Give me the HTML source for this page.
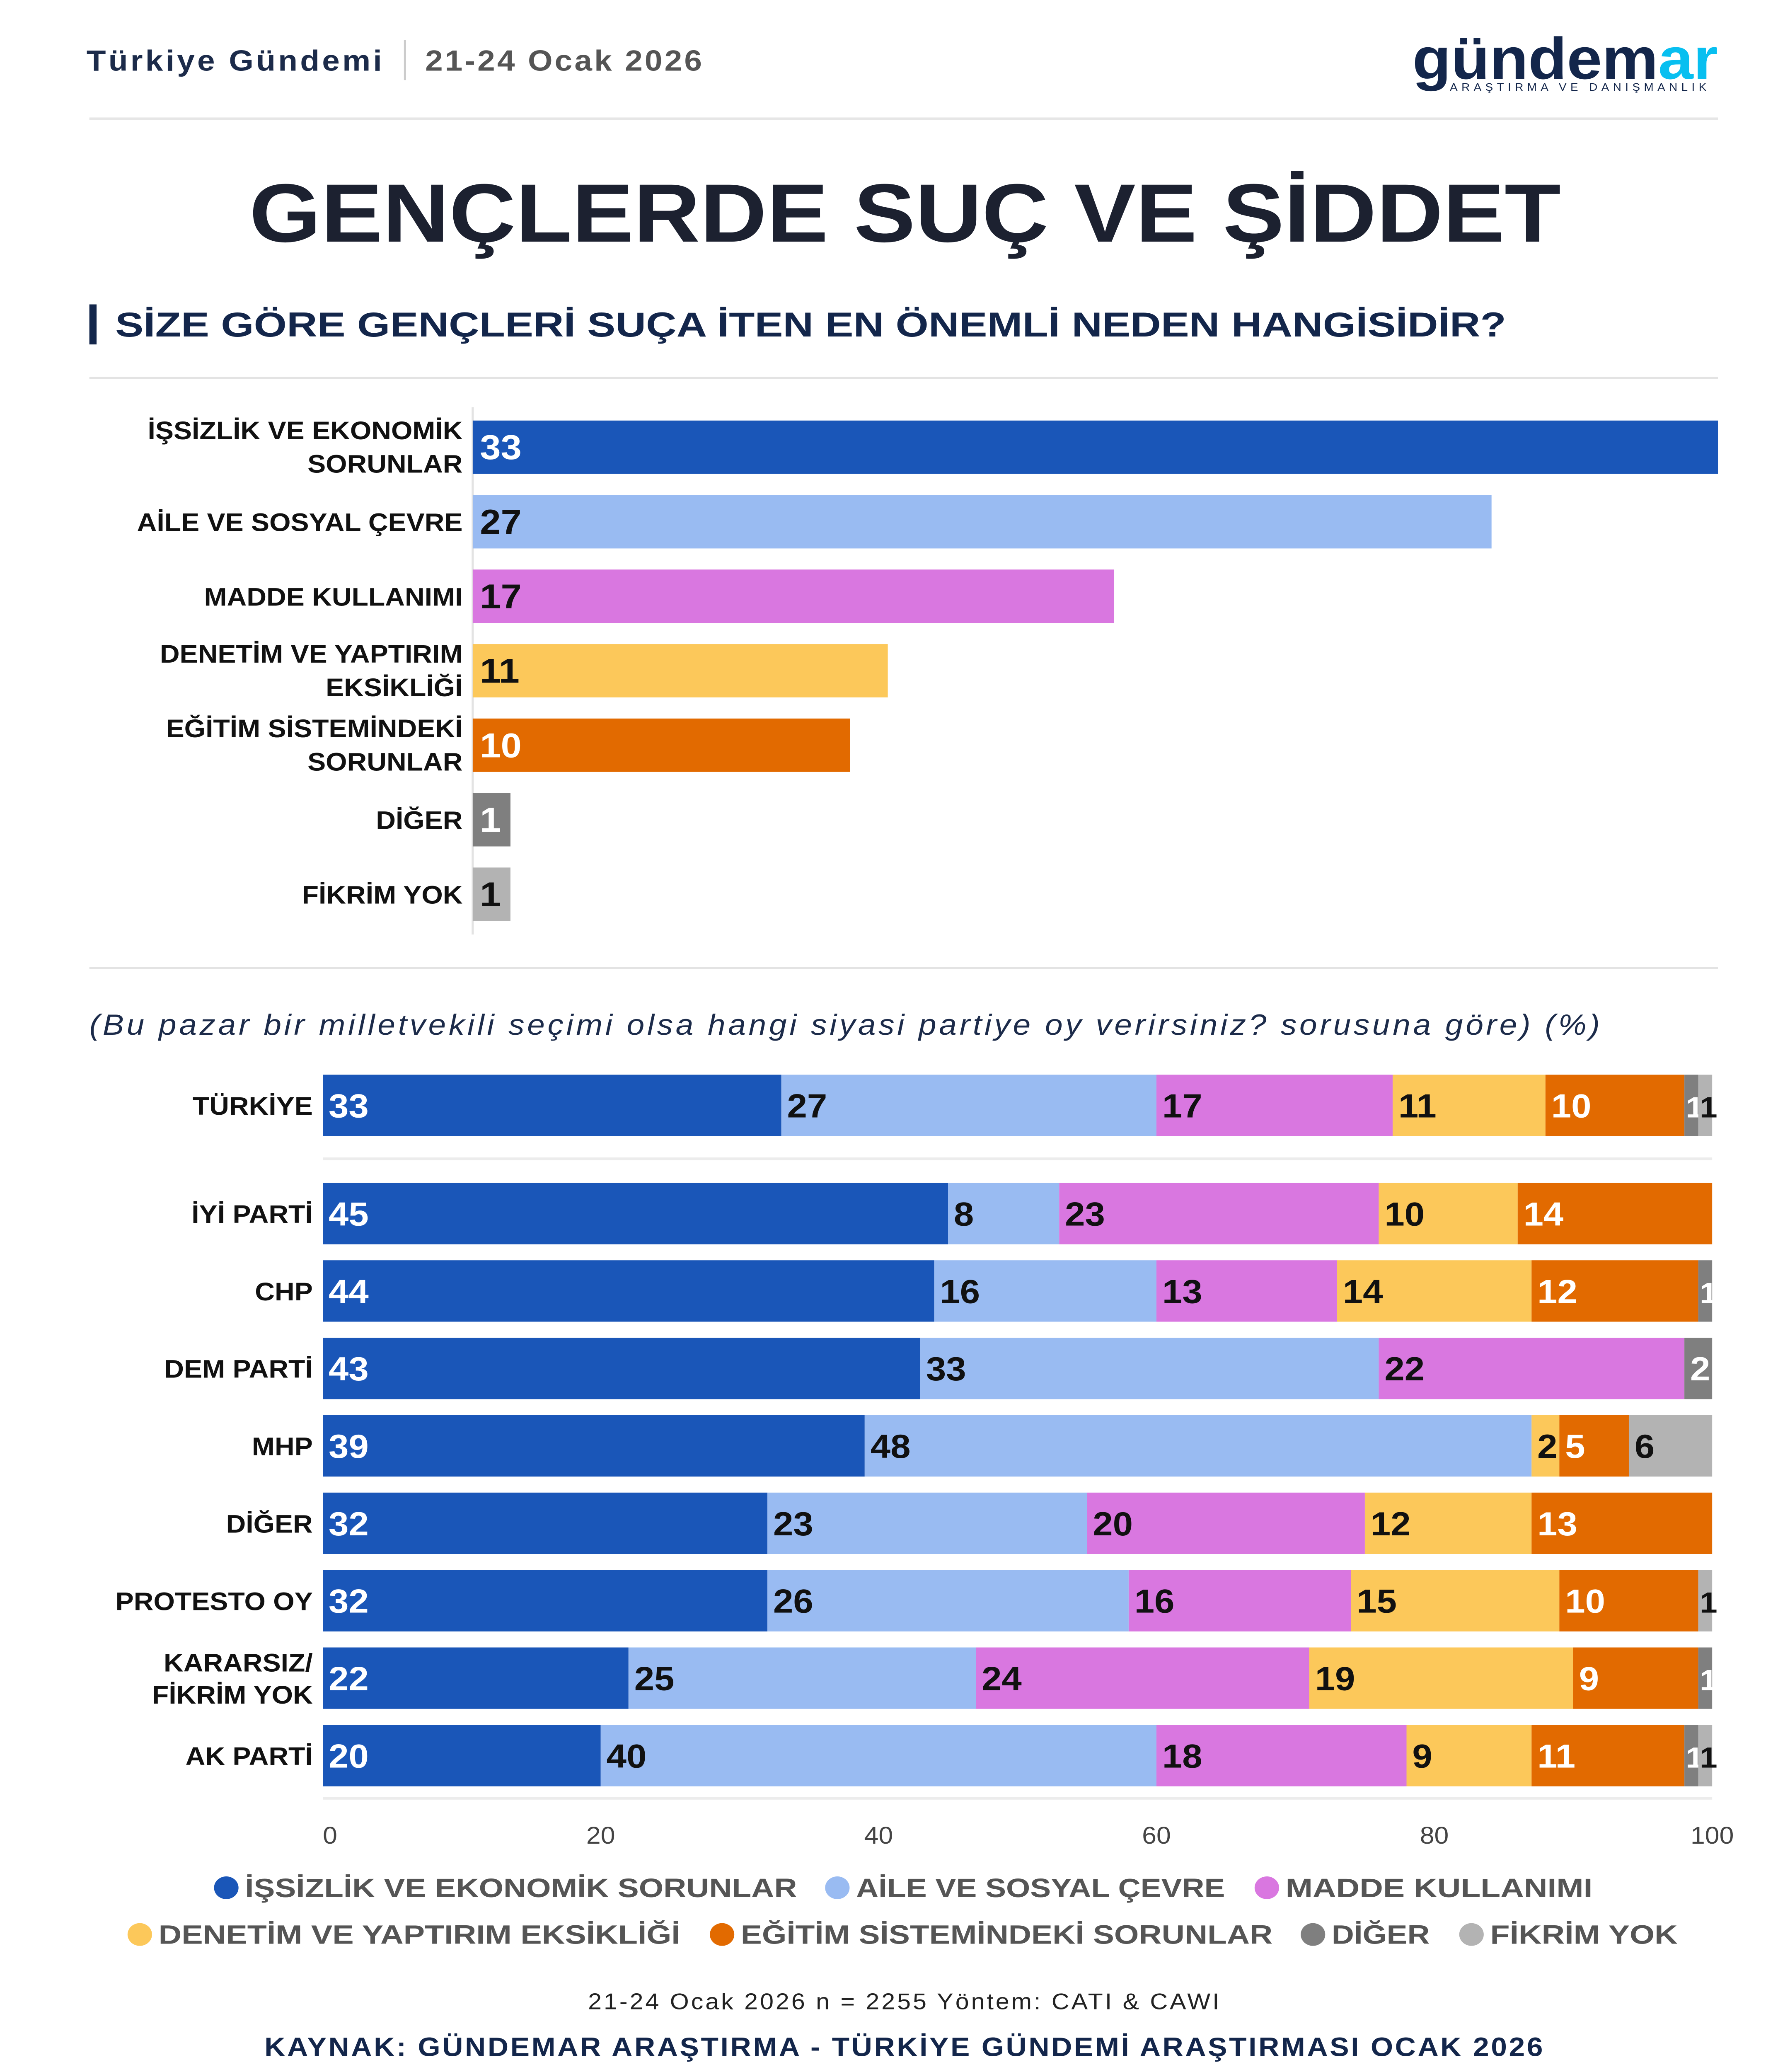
<!DOCTYPE html>
<html><head><meta charset="utf-8"><style>
html,body{margin:0;padding:0;background:#fff;width:100%;height:100%;overflow:hidden}
svg{display:block;position:fixed;left:0;top:0;width:100vw;height:100vh}
text{font-family:"Liberation Sans",sans-serif}
</style></head><body>
<svg id="chart" viewBox="0 0 1242 1552" preserveAspectRatio="none" xmlns="http://www.w3.org/2000/svg">
<rect width="1242" height="1552" fill="#fff"/>
<text x="60" y="53" font-size="22" font-weight="bold" fill="#1c2b4a" textLength="205">Türkiye Gündemi</text>
<line x1="281" y1="30" x2="281" y2="60" stroke="#ccc" stroke-width="1.5"/>
<text x="295" y="53" font-size="22" font-weight="bold" fill="#555" textLength="192">21-24 Ocak 2026</text>
<g>
<text x="980" y="59" font-size="44" font-weight="bold" fill="#13264b" textLength="212" lengthAdjust="spacingAndGlyphs">gündem<tspan fill="#08bff0">ar</tspan></text>
<text x="1006" y="68" font-size="8" fill="#13264b" textLength="178">ARAŞTIRMA VE DANIŞMANLIK</text>
</g>
<line x1="62" y1="89" x2="1192" y2="89" stroke="#e6e6e6" stroke-width="2"/>
<text x="173" y="181" font-size="62" font-weight="bold" fill="#1c2130" textLength="910" lengthAdjust="spacingAndGlyphs">GENÇLERDE SUÇ VE ŞİDDET</text>
<rect x="62" y="228" width="5" height="30" fill="#13264b"/>
<text x="80" y="252" font-size="26" font-weight="bold" fill="#13264b" textLength="965" lengthAdjust="spacingAndGlyphs">SİZE GÖRE GENÇLERİ SUÇA İTEN EN ÖNEMLİ NEDEN HANGİSİDİR?</text>
<line x1="62" y1="283" x2="1192" y2="283" stroke="#e3e3e3" stroke-width="1.5"/>
<line x1="328" y1="305" x2="328" y2="700" stroke="#e3e3e3" stroke-width="1.5"/>
<g id="topBars"></g>
<line x1="62" y1="725" x2="1192" y2="725" stroke="#e3e3e3" stroke-width="1.5"/>
<text x="62" y="775" font-size="22" font-style="italic" fill="#1c2b4a" textLength="1048">(Bu pazar bir milletvekili seçimi olsa hangi siyasi partiye oy verirsiniz? sorusuna göre) (%)</text>
<line x1="224" y1="868" x2="1188" y2="868" stroke="#ececec" stroke-width="2"/>
<line x1="224" y1="1347" x2="1188" y2="1347" stroke="#ececec" stroke-width="2"/>
<g id="stackBars"></g>
<g id="ticks"></g>
<g id="legend"></g>
<text x="627" y="1505" font-size="17" fill="#222" text-anchor="middle" textLength="438">21-24 Ocak 2026 n = 2255 Yöntem: CATI &amp; CAWI</text>
<text x="627" y="1540" font-size="20" font-weight="bold" fill="#13264b" text-anchor="middle" textLength="887">KAYNAK: GÜNDEMAR ARAŞTIRMA - TÜRKİYE GÜNDEMİ ARAŞTIRMASI OCAK 2026</text>
</svg>
<script>
const categories = ["İŞSİZLİK VE EKONOMİK SORUNLAR","AİLE VE SOSYAL ÇEVRE","MADDE KULLANIMI","DENETİM VE YAPTIRIM EKSİKLİĞİ","EĞİTİM SİSTEMİNDEKİ SORUNLAR","DİĞER","FİKRİM YOK"];
const topLabels = [["İŞSİZLİK VE EKONOMİK","SORUNLAR"],["AİLE VE SOSYAL ÇEVRE"],["MADDE KULLANIMI"],["DENETİM VE YAPTIRIM","EKSİKLİĞİ"],["EĞİTİM SİSTEMİNDEKİ","SORUNLAR"],["DİĞER"],["FİKRİM YOK"]];
const topValues = [33,27,17,11,10,1,1];
const groups = ["TÜRKİYE","İYİ PARTİ","CHP","DEM PARTİ","MHP","DİĞER","PROTESTO OY","KARARSIZ/ FİKRİM YOK","AK PARTİ"];
const sIssizlik = [33,45,44,43,39,32,32,22,20];
const sAile     = [27,8,16,33,48,23,26,25,40];
const sMadde    = [17,23,13,22,0,20,16,24,18];
const sDenetim  = [11,10,14,0,2,12,15,19,9];
const sEgitim   = [10,14,12,0,5,13,10,9,11];
const sDiger    = [1,0,1,2,0,0,0,1,1];
const sFikrim   = [1,0,0,0,6,0,1,0,1];
const tickValues = [0,20,40,60,80,100];

const colors = ["#1a56b8","#99bbf2","#d977e0","#fcc85a","#e26a00","#7f7f7f","#b3b3b3"];
const txtColors = ["#fff","#111","#111","#111","#fff","#fff","#111"];
const NS = "http://www.w3.org/2000/svg";
function mk(tag, attrs, parent){const e=document.createElementNS(NS,tag);for(const k in attrs)e.setAttribute(k,attrs[k]);parent.appendChild(e);return e;}

const topG = document.getElementById("topBars");
const topX0 = 328, topXMax = 1192, topMax = 33;
const topScale = v => topX0 + v/topMax*(topXMax-topX0);
const topY = i => 335 + i*55.8;
topValues.forEach((v,i)=>{
  const cy = topY(i);
  const r = mk("rect",{x:topX0,y:cy-20,width:topScale(v)-topX0,height:40,fill:colors[i]},topG);
  
  
  const t = mk("text",{x:topX0+5,y:cy+9,"font-size":26,"font-weight":"bold",fill:txtColors[i]},topG);
  t.textContent = v;
  
  
  const lines = topLabels[i];
  lines.forEach((ln,j)=>{
    const y = lines.length===1 ? cy+7 : cy-6+j*25;
    const l = mk("text",{x:321,y:y,"font-size":19,"font-weight":"bold",fill:"#111","text-anchor":"end"},topG);
    l.textContent = ln;
    
    
  });
});

const series = [sIssizlik,sAile,sMadde,sDenetim,sEgitim,sDiger,sFikrim];
const sg = document.getElementById("stackBars");
const bx0 = 224, bx1 = 1188;
const xs = v => bx0 + v/100*(bx1-bx0);
const rowY = i => i===0 ? 828 : 909 + (i-1)*58;
groups.forEach((g,i)=>{
  const cy = rowY(i);
  let acc = 0;
  series.forEach((s,k)=>{
    const v = s[i];
    if(!v) return;
    const r = mk("rect",{x:xs(acc),y:cy-23,width:xs(acc+v)-xs(acc),height:46,fill:colors[k]},sg);
    
    
    const t = mk("text",{x:xs(acc)+(v===1?1:4),y:cy+9,"font-size":v===1?22:25,"font-weight":"bold",fill:txtColors[k]},sg);
    t.textContent = v;
    
    
    acc += v;
  });
  const parts = g==="KARARSIZ/ FİKRİM YOK" ? ["KARARSIZ/","FİKRİM YOK"] : [g];
  parts.forEach((p,j)=>{
    const y = parts.length===1 ? cy+7 : cy-5+j*24;
    const l = mk("text",{x:217,y:y,"font-size":19,"font-weight":"bold",fill:"#111","text-anchor":"end"},sg);
    l.textContent = p;
    
    
  });
});

const tg = document.getElementById("ticks");
tickValues.forEach(v=>{
  const t = mk("text",{x:xs(v)+(v===0?5:0),y:1381,"font-size":18,fill:"#444","text-anchor":"middle"},tg);
  t.textContent = v;
  
  
});

const lg = document.getElementById("legend");
const legendPos = [[157,1414,383],[581,1414,256],[879,1414,213],[97,1449,362],[501,1449,369],[911,1449,68],[1021,1449,130]];
categories.forEach((c,k)=>{
  const [cx,cy,w] = legendPos[k];
  const d = mk("circle",{cx:cx,cy:cy,r:8.5,fill:colors[k]},lg);
  
  
  const t = mk("text",{x:cx+13,y:cy+7,"font-size":20,"font-weight":"bold",fill:"#555",textLength:w,lengthAdjust:"spacingAndGlyphs"},lg);
  t.textContent = c;
  
  
});
</script>
</body></html>
